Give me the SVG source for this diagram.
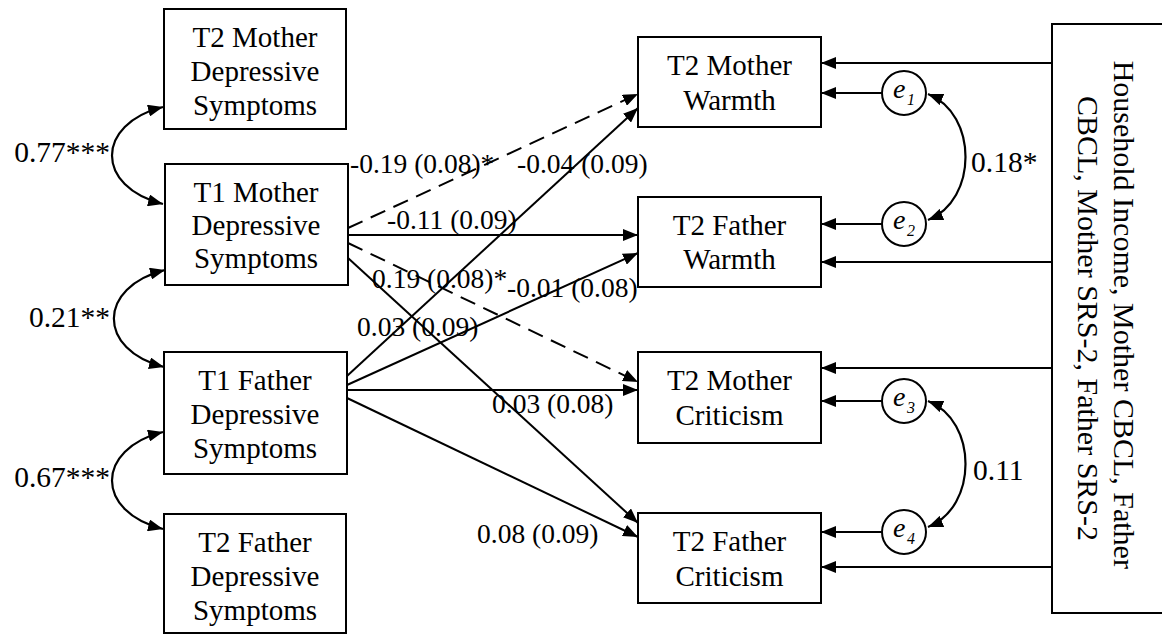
<svg xmlns="http://www.w3.org/2000/svg" width="1162" height="635" viewBox="0 0 1162 635">
<style>
text{font-family:'Liberation Serif','DejaVu Serif',serif}
.box{fill:#fff;stroke:#000;stroke-width:2}
.ci{fill:#fff;stroke:#000;stroke-width:2}
.t{font-size:29px;fill:#000;text-anchor:middle}
.lb{font-size:27.5px;fill:#000}
.cv{font-size:29.5px;fill:#000}
.ev{font-style:italic;fill:#000}
.ln{fill:none;stroke:#000;stroke-width:2;marker-end:url(#ah)}
.dl{fill:none;stroke:#000;stroke-width:2;stroke-dasharray:16 9;marker-end:url(#ah)}
.cu{fill:none;stroke:#000;stroke-width:2.2;marker-start:url(#ah);marker-end:url(#ah)}
</style>
<defs>
<marker id="ah" viewBox="0 0 15 12" refX="15" refY="6" markerWidth="15" markerHeight="12" markerUnits="userSpaceOnUse" orient="auto-start-reverse">
<path d="M0,0 L15,6 L0,12 z" fill="#000"/>
</marker>
</defs>
<rect width="1162" height="635" fill="#fff"/>

<g id="connectors">
<line class="dl" x1="348" y1="228" x2="638" y2="94"/>
<line class="ln" x1="348" y1="235" x2="638" y2="235"/>
<line class="dl" x1="348" y1="243" x2="638" y2="382"/>
<line class="ln" x1="348" y1="258" x2="638" y2="523"/>
<line class="ln" x1="347" y1="376" x2="638" y2="108"/>
<line class="ln" x1="347" y1="385" x2="638" y2="253"/>
<line class="ln" x1="347" y1="390" x2="638" y2="390"/>
<line class="ln" x1="347" y1="398" x2="638" y2="537"/>
<line class="ln" x1="1052" y1="63" x2="821" y2="63"/>
<line class="ln" x1="1052" y1="262" x2="821" y2="262"/>
<line class="ln" x1="1052" y1="368" x2="821" y2="368"/>
<line class="ln" x1="1052" y1="567" x2="821" y2="567"/>
<line class="ln" x1="882" y1="93" x2="821" y2="93"/>
<line class="ln" x1="882" y1="224" x2="821" y2="224"/>
<line class="ln" x1="882" y1="401" x2="821" y2="401"/>
<line class="ln" x1="882" y1="532" x2="821" y2="532"/>
<path class="cu" d="M163,107 C95,124 95,187 163,204"/>
<path class="cu" d="M165,270 C97,287 97,350 164,367"/>
<path class="cu" d="M163,432 C95,449 95,512 163,529"/>
<path class="cu" d="M928,94 C978,114 978,200 928,220"/>
<path class="cu" d="M928,401 C978,421 978,507 928,527"/>
<text class="cv" x="110" y="162" text-anchor="end">0.77***</text>
<text class="cv" x="110" y="327" text-anchor="end">0.21**</text>
<text class="cv" x="110" y="487" text-anchor="end">0.67***</text>
<text class="cv" x="971" y="172">0.18*</text>
<text class="cv" x="973" y="480">0.11</text>
<text class="lb" x="350" y="173">-0.19 (0.08)*</text>
<text class="lb" x="517" y="173">-0.04 (0.09)</text>
<text class="lb" x="387" y="229">-0.11 (0.09)</text>
<text class="lb" x="372" y="288">0.19 (0.08)*</text>
<text class="lb" x="507" y="297">-0.01 (0.08)</text>
<text class="lb" x="357" y="336">0.03 (0.09)</text>
<text class="lb" x="492" y="413">0.03 (0.08)</text>
<text class="lb" x="477" y="543">0.08 (0.09)</text>
</g>

<g id="t2-mother-dep">
<rect class="box" x="164" y="9" width="182" height="120"/>
<text class="t" x="255" y="47">T2 Mother</text>
<text class="t" x="255" y="81">Depressive</text>
<text class="t" x="255" y="115">Symptoms</text>
</g>
<g id="t1-mother-dep">
<rect class="box" x="165" y="164" width="183" height="121"/>
<text class="t" x="256" y="202">T1 Mother</text>
<text class="t" x="256" y="235">Depressive</text>
<text class="t" x="256" y="268">Symptoms</text>
</g>
<g id="t1-father-dep">
<rect class="box" x="164" y="352" width="183" height="122"/>
<text class="t" x="255" y="390">T1 Father</text>
<text class="t" x="255" y="424">Depressive</text>
<text class="t" x="255" y="458">Symptoms</text>
</g>
<g id="t2-father-dep">
<rect class="box" x="164" y="514" width="182" height="119"/>
<text class="t" x="255" y="552">T2 Father</text>
<text class="t" x="255" y="586">Depressive</text>
<text class="t" x="255" y="620">Symptoms</text>
</g>

<g id="t2-mother-warmth">
<rect class="box" x="638" y="37" width="183" height="90"/>
<text class="t" x="729.5" y="75">T2 Mother</text>
<text class="t" x="729.5" y="110">Warmth</text>
</g>
<g id="t2-father-warmth">
<rect class="box" x="638" y="197" width="183" height="90"/>
<text class="t" x="729.5" y="235">T2 Father</text>
<text class="t" x="729.5" y="269">Warmth</text>
</g>
<g id="t2-mother-criticism">
<rect class="box" x="638" y="352" width="183" height="91"/>
<text class="t" x="729.5" y="390">T2 Mother</text>
<text class="t" x="729.5" y="425">Criticism</text>
</g>
<g id="t2-father-criticism">
<rect class="box" x="638" y="513" width="183" height="90"/>
<text class="t" x="729.5" y="551">T2 Father</text>
<text class="t" x="729.5" y="586">Criticism</text>
</g>

<g id="e1">
<circle class="ci" cx="904" cy="93" r="22"/>
<text class="ev" x="893" y="98" font-size="28">e</text>
<text class="ev" x="907" y="105" font-size="16">1</text>
</g>
<g id="e2">
<circle class="ci" cx="904" cy="224" r="22"/>
<text class="ev" x="893" y="229" font-size="28">e</text>
<text class="ev" x="907" y="236" font-size="16">2</text>
</g>
<g id="e3">
<circle class="ci" cx="904" cy="401" r="22"/>
<text class="ev" x="893" y="406" font-size="28">e</text>
<text class="ev" x="907" y="413" font-size="16">3</text>
</g>
<g id="e4">
<circle class="ci" cx="904" cy="532" r="22"/>
<text class="ev" x="893" y="537" font-size="28">e</text>
<text class="ev" x="907" y="544" font-size="16">4</text>
</g>

<g id="covariates">
<rect class="box" x="1052" y="24" width="130" height="589"/>
<text class="t" transform="translate(1114,318.5) rotate(90)" style="font-size:30px">
<tspan x="0" y="0">Household Income, Mother CBCL, Father</tspan>
<tspan x="0" y="36">CBCL, Mother SRS-2, Father SRS-2</tspan>
</text>
</g>
</svg>
